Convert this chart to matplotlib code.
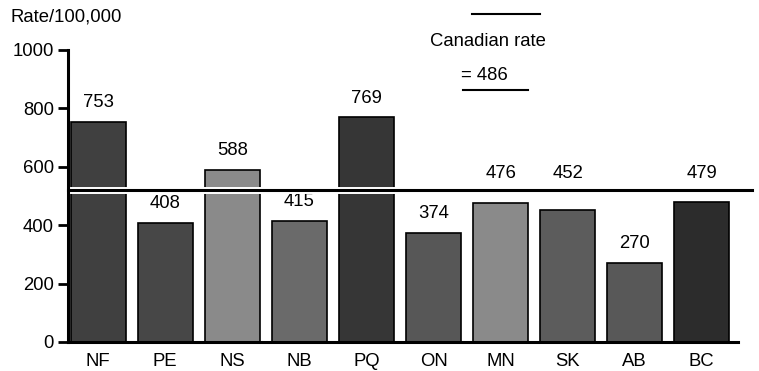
import matplotlib
matplotlib.use("Agg")
import matplotlib.pyplot as plt
from matplotlib.lines import Line2D

provinces = ["NF", "PE", "NS", "NB", "PQ", "ON", "MN", "SK", "AB", "BC"]
rates = [753, 408, 588, 415, 769, 374, 476, 452, 270, 479]
bar_greys = ["#404040", "#474747", "#8a8a8a", "#6a6a6a", "#363636",
             "#575757", "#8a8a8a", "#5c5c5c", "#585858", "#2c2c2c"]
canadian_rate = 486
ref_line_level = 520
yticks = [0, 200, 400, 600, 800, 1000]

plt.rcParams['font.family'] = ['Liberation Sans', 'DejaVu Sans']
FS = 13.3

fig = plt.figure(figsize=(7.59, 3.71), dpi=100)
ax = fig.add_axes([68/759, 1-342/371, (738-68)/759, (342-50)/371])

x = list(range(len(provinces)))
ax.bar(x, rates, width=0.82, color=bar_greys, edgecolor="black", linewidth=1.2)
for xi, r in zip(x, rates):
    if ref_line_level - 80 < r < ref_line_level:
        # label sits just above the reference line
        ax.annotate(str(r), (xi, ref_line_level), xytext=(0, 12),
                    textcoords="offset points", ha="center", va="center",
                    fontsize=FS)
    else:
        ax.annotate(str(r), (xi, r), xytext=(0, 14), textcoords="offset points",
                    ha="center", va="center", fontsize=FS)

xmax_line = (752-68)/(738-68)
ax.axhline(ref_line_level, xmin=0, xmax=xmax_line, color="white",
           linewidth=5, clip_on=False, zorder=3)
ax.axhline(ref_line_level, xmin=0, xmax=xmax_line, color="black",
           linewidth=2.2, clip_on=False, zorder=4)

ax.set_xlim(-0.45, 9.54)
ax.set_ylim(0, 1000)
ax.set_yticks(yticks)
ax.set_yticklabels([str(t) for t in yticks], fontsize=FS)
ax.set_xticks(x)
ax.set_xticklabels(provinces, fontsize=FS)
ax.tick_params(axis="x", length=0, pad=8)
ax.tick_params(axis="y", length=7, width=2, pad=3)
for s in ["top", "right"]:
    ax.spines[s].set_visible(False)
ax.spines["left"].set_linewidth(2.2)
ax.spines["bottom"].set_linewidth(2.2)
ax.spines["left"].set_zorder(5)

fig.text(11/759, 1-17/371, "Rate/100,000", fontsize=FS, va="center", ha="left")
fig.text(488/759, 1-42/371, "Canadian rate", fontsize=FS, va="center", ha="center")
fig.text(484/759, 1-75/371, "= " + str(canadian_rate), fontsize=FS, va="center", ha="center")
fig.add_artist(Line2D([472/759, 540/759], [1-14/371, 1-14/371], color="black", linewidth=1.5))
fig.add_artist(Line2D([463/759, 528/759], [1-90/371, 1-90/371], color="black", linewidth=1.5))

fig.savefig("out.png", dpi=100)
